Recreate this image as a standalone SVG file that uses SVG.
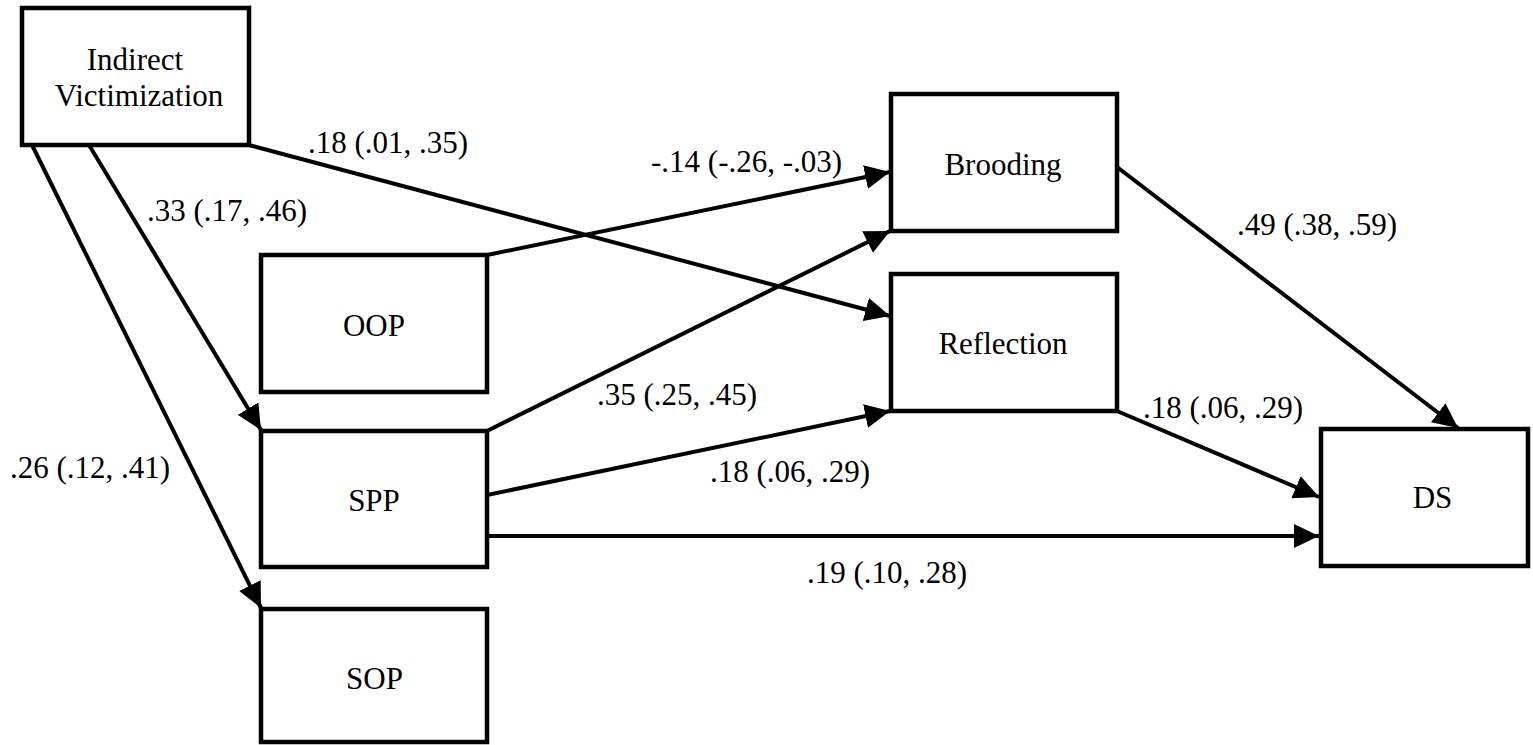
<svg xmlns="http://www.w3.org/2000/svg" width="1533" height="745" viewBox="0 0 1533 745">
<style>
.box{fill:#fff;stroke:#000;stroke-width:4.5}
.t{font-family:"Liberation Serif","Times New Roman",serif;font-size:31px;fill:#000}
.c{text-anchor:middle}
.e{fill:none;stroke:#000;stroke-width:4;marker-end:url(#ah)}
</style>
<defs>
<marker id="ah" markerUnits="userSpaceOnUse" markerWidth="26" markerHeight="24" refX="25" refY="12" orient="auto">
<path d="M0,0 L25,12 L0,24 Z" fill="#000"/>
</marker>
</defs>
<rect width="1533" height="745" fill="#fff"/>
<g id="connectors">
<line class="e" x1="32" y1="145" x2="261" y2="608"/>
<line class="e" x1="89" y1="145" x2="261" y2="430"/>
<line class="e" x1="249" y1="145" x2="890" y2="316"/>
<line class="e" x1="487" y1="255" x2="890" y2="172"/>
<line class="e" x1="487" y1="431" x2="890" y2="231"/>
<line class="e" x1="487" y1="495" x2="890" y2="411"/>
<line class="e" x1="487" y1="536" x2="1319" y2="536"/>
<line class="e" x1="1117" y1="167" x2="1458" y2="428"/>
<line class="e" x1="1117" y1="411" x2="1319" y2="497"/>
</g>
<g id="node-iv">
<rect class="box" x="22" y="8" width="227" height="137"/>
<text class="t c" x="135" y="70">Indirect</text>
<text class="t c" x="139" y="106">Victimization</text>
</g>
<g id="node-oop">
<rect class="box" x="261" y="255" width="226" height="137"/>
<text class="t c" x="374" y="336">OOP</text>
</g>
<g id="node-spp">
<rect class="box" x="261" y="431" width="226" height="136"/>
<text class="t c" x="374" y="511">SPP</text>
</g>
<g id="node-sop">
<rect class="box" x="261" y="609" width="226" height="133"/>
<text class="t c" x="374.5" y="689">SOP</text>
</g>
<g id="node-brooding">
<rect class="box" x="891" y="94" width="226" height="137"/>
<text class="t c" x="1003" y="175">Brooding</text>
</g>
<g id="node-reflection">
<rect class="box" x="891" y="274" width="226" height="137"/>
<text class="t c" x="1003" y="354">Reflection</text>
</g>
<g id="node-ds">
<rect class="box" x="1321" y="429" width="207" height="137"/>
<text class="t c" x="1432.5" y="508">DS</text>
</g>
<g id="labels">
<text class="t" x="308" y="153">.18 (.01, .35)</text>
<text class="t" x="147" y="221">.33 (.17, .46)</text>
<text class="t" x="651" y="172">-.14 (-.26, -.03)</text>
<text class="t" x="597" y="405">.35 (.25, .45)</text>
<text class="t" x="710" y="482">.18 (.06, .29)</text>
<text class="t" x="1237" y="235">.49 (.38, .59)</text>
<text class="t" x="1143" y="418">.18 (.06, .29)</text>
<text class="t" x="10" y="478">.26 (.12, .41)</text>
<text class="t" x="807" y="583">.19 (.10, .28)</text>
</g>
</svg>
